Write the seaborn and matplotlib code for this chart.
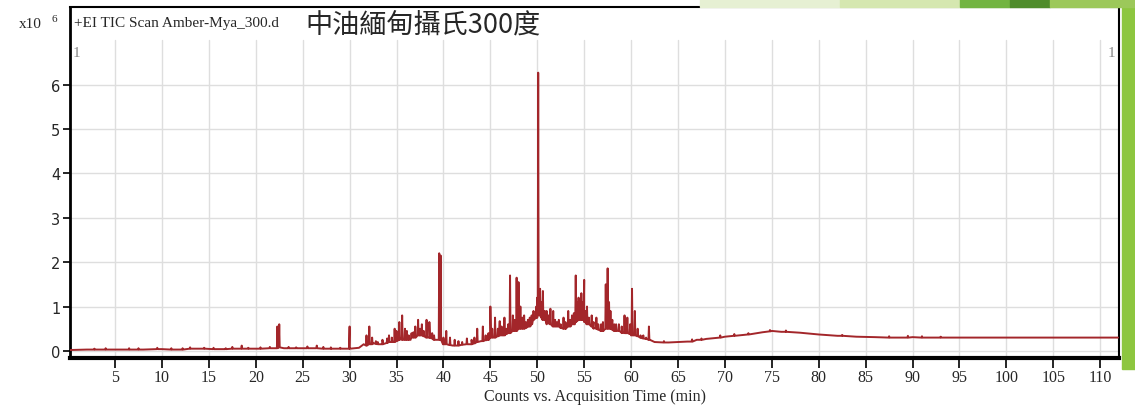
import pandas as pd
import seaborn as sns
import matplotlib.pyplot as plt
from matplotlib.patches import Rectangle

# --- data (counts x10^6 vs minutes) ---
base_time = [0.2, 2, 5, 8, 10, 12, 14, 16, 18, 20, 22, 23, 25, 28, 30, 31,
             31.5, 32.5, 33.5, 34.5, 35.5, 36.5, 37.5, 38.5, 39.2, 40, 41, 42,
             43, 44, 45, 46, 47, 48, 49, 50, 51, 52, 53, 54, 55, 56, 57, 58,
             59, 60, 61, 62, 62.5, 64, 65, 66, 67, 68, 70, 72, 74, 75, 76, 78,
             80, 82, 84, 86, 88, 90, 92, 95, 100, 105, 111.9]
base_value = [0.02, 0.03, 0.03, 0.03, 0.04, 0.03, 0.05, 0.04, 0.05, 0.05, 0.06,
              0.06, 0.06, 0.05, 0.05, 0.07, 0.15, 0.18, 0.15, 0.2, 0.28, 0.25,
              0.35, 0.3, 0.25, 0.15, 0.12, 0.15, 0.15, 0.22, 0.3, 0.35, 0.4,
              0.5, 0.55, 0.75, 0.6, 0.55, 0.5, 0.6, 0.65, 0.5, 0.45, 0.5, 0.4,
              0.35, 0.3, 0.25, 0.2, 0.19, 0.2, 0.21, 0.25, 0.27, 0.32, 0.36,
              0.42, 0.45, 0.43, 0.41, 0.37, 0.34, 0.32, 0.31, 0.3, 0.31, 0.3,
              0.3, 0.3, 0.3, 0.3]

peak_time = [4.0, 6.5, 9.5, 11.0, 13.0, 15.5, 17.5, 18.5, 20.5, 21.5, 22.3, 22.5,
             25.5, 26.5, 28.0, 30.0, 31.8, 32.1, 33.5, 34.2, 34.8, 35.3, 35.6,
             36.1, 36.6, 37.0, 37.3, 37.7, 38.2, 38.5, 39.0, 39.55, 39.7, 40.3,
             41.2, 42.5, 43.0, 43.6, 44.2, 44.8, 45.0, 45.5, 46.0, 46.5, 46.9,
             47.1, 47.4, 47.8, 48.0, 48.2, 48.6, 49.2, 49.6, 49.9, 50.1, 50.3,
             50.6, 51.0, 51.4, 51.7, 52.3, 52.8, 53.3, 53.7, 54.1, 54.4, 54.7,
             55.0, 55.3, 55.8, 56.3, 56.8, 57.3, 57.5, 57.8, 58.2, 58.7, 59.3,
             59.6, 60.1, 60.4, 61.0, 61.9, 66.5, 69.5, 71.0, 74.8]
peak_top = [0.06, 0.06, 0.07, 0.06, 0.08, 0.07, 0.09, 0.12, 0.08, 0.09, 0.55, 0.6,
            0.1, 0.12, 0.08, 0.55, 0.35, 0.55, 0.25, 0.35, 0.5, 0.65, 0.8,
            0.45, 0.4, 0.55, 0.7, 0.6, 0.7, 0.65, 0.35, 2.2, 2.15, 0.45,
            0.25, 0.28, 0.25, 0.5, 0.55, 0.4, 1.0, 0.75, 0.67, 0.75, 0.6,
            1.7, 0.8, 1.65, 1.55, 1.0, 0.8, 0.75, 0.9, 1.0, 6.27, 1.4,
            1.35, 0.9, 0.95, 0.9, 0.7, 0.75, 0.9, 0.8, 1.7, 1.2, 1.3,
            1.6, 1.0, 0.8, 0.75, 0.6, 1.5, 1.86, 0.9, 0.6, 0.6, 0.8,
            0.75, 1.4, 0.9, 0.35, 0.55, 0.26, 0.35, 0.38, 0.47]
peak_base = [0.03, 0.03, 0.04, 0.03, 0.05, 0.04, 0.05, 0.05, 0.05, 0.06, 0.06, 0.08,
             0.06, 0.06, 0.05, 0.05, 0.12, 0.15, 0.15, 0.2, 0.2, 0.25, 0.25,
             0.25, 0.3, 0.3, 0.35, 0.35, 0.3, 0.3, 0.25, 0.25, 0.25, 0.15,
             0.12, 0.15, 0.15, 0.2, 0.22, 0.25, 0.3, 0.3, 0.35, 0.35, 0.4,
             0.4, 0.45, 0.45, 0.5, 0.5, 0.5, 0.55, 0.7, 0.75, 0.8, 0.8,
             0.7, 0.65, 0.6, 0.55, 0.55, 0.5, 0.55, 0.6, 0.65, 0.7, 0.7,
             0.7, 0.6, 0.55, 0.5, 0.45, 0.5, 0.5, 0.5, 0.45, 0.45, 0.4,
             0.4, 0.35, 0.35, 0.3, 0.25, 0.21, 0.3, 0.34, 0.44]

# smaller unresolved peaks that make up the dense 32-62 min hump
minor_time = [2.8, 7.5, 12.2, 14.5, 16.8, 19.2, 23.5, 24.3, 27.2, 29.0,
              32.4, 32.8, 33.0, 34.0, 34.5, 35.0, 35.9, 36.3, 36.8, 37.5, 37.9,
              38.8, 40.0, 40.7, 41.6, 42.0, 43.3, 44.5, 45.2, 45.8, 46.2, 46.7,
              47.6, 48.4, 48.8, 49.0, 49.4, 50.0, 50.2, 50.45, 50.8, 51.2, 51.9,
              52.1, 52.5, 53.0, 53.5, 53.9, 54.25, 54.55, 54.85, 55.15, 55.5,
              56.0, 56.5, 57.0, 57.65, 58.0, 58.4, 59.0, 59.9, 60.7, 61.3, 61.6,
              63.5, 67.5, 72.5, 76.5, 82.5, 87.5, 89.5, 91.0, 93.0]
minor_top = [0.05, 0.06, 0.06, 0.07, 0.06, 0.07, 0.09, 0.08, 0.09, 0.07,
             0.3, 0.22, 0.2, 0.28, 0.3, 0.45, 0.5, 0.35, 0.42, 0.5, 0.45,
             0.4, 0.3, 0.3, 0.22, 0.2, 0.3, 0.35, 0.5, 0.5, 0.55, 0.5,
             0.7, 0.75, 0.65, 0.7, 0.8, 1.2, 1.0, 1.1, 0.9, 0.8, 0.7,
             0.65, 0.6, 0.65, 0.7, 0.85, 1.1, 1.0, 1.1, 0.9, 0.75,
             0.65, 0.6, 0.65, 1.1, 0.7, 0.6, 0.55, 0.6, 0.5, 0.35, 0.3,
             0.22, 0.28, 0.4, 0.46, 0.36, 0.33, 0.34, 0.33, 0.32]
minor_base = [0.03, 0.03, 0.03, 0.05, 0.04, 0.05, 0.06, 0.06, 0.05, 0.05,
              0.15, 0.16, 0.15, 0.18, 0.2, 0.22, 0.25, 0.25, 0.3, 0.35, 0.33,
              0.28, 0.15, 0.13, 0.12, 0.14, 0.17, 0.24, 0.3, 0.33, 0.35, 0.38,
              0.45, 0.5, 0.52, 0.55, 0.6, 0.8, 0.8, 0.75, 0.7, 0.62, 0.55,
              0.55, 0.52, 0.5, 0.55, 0.6, 0.68, 0.7, 0.7, 0.65, 0.6,
              0.52, 0.48, 0.45, 0.5, 0.48, 0.45, 0.42, 0.38, 0.33, 0.28, 0.27,
              0.19, 0.25, 0.37, 0.43, 0.34, 0.3, 0.3, 0.3, 0.3]

x_ticks = list(range(5, 111, 5))
y_ticks = [0, 1, 2, 3, 4, 5, 6]

sample_label = "+EI TIC Scan Amber-Mya_300.d"
title_text = "中油緬甸攝氏300度"
x_label = "Counts vs. Acquisition Time (min)"

# --- build one trace: baseline points plus a narrow spike for every peak ---
rows = [(t, v) for t, v in zip(base_time, base_value)]
for t, top, b in zip(peak_time + minor_time, peak_top + minor_top, peak_base + minor_base):
    rows += [(t - 0.05, b), (t, top), (t + 0.05, b)]
trace = pd.DataFrame(rows, columns=["time", "counts"]).sort_values("time")

sns.set_theme(style="white")
plt.rcParams["font.family"] = ["DejaVu Sans"]

fig = plt.figure(figsize=(11.35, 4.06), dpi=100)
fig.patch.set_facecolor("white")

# slide decoration (green band on the right and shapes above the frame)
fig.patches.append(Rectangle((1122 / 1135, 36 / 406), 13 / 1135, 370 / 406,
                             transform=fig.transFigure, color="#8dc63f", zorder=0))
for x0, x1, c in [(700, 840, "#e6f0d3"), (840, 960, "#d5e7b0"), (960, 1010, "#72b441"),
                  (1010, 1050, "#4f8c2b"), (1050, 1135, "#9cc85a")]:
    fig.patches.append(Rectangle((x0 / 1135, 398 / 406), (x1 - x0) / 1135, 8 / 406,
                                 transform=fig.transFigure, color=c, zorder=0))

ax = fig.add_axes([70 / 1135, 47 / 406, 1049 / 1135, 351 / 406])
ax.set_facecolor("white")

sns.lineplot(data=trace, x="time", y="counts", ax=ax, estimator=None, sort=False,
             color="#a3262a", linewidth=1.4, zorder=3)

ax.set_xlim(0.2, 112)
ax.set_ylim(-0.16, 7.75)

# grid only covers the plotting region below the header row
for yv in y_ticks:
    ax.axhline(yv, color="#dedede", linewidth=1, zorder=1)
for xv in x_ticks:
    ax.plot([xv, xv], [-0.16, 7.0], color="#dedede", linewidth=1, zorder=1)

ax.set_xticks(x_ticks)
ax.set_yticks(y_ticks)
ax.set_xticklabels([str(v) for v in x_ticks], family="Liberation Serif", fontsize=11.5)
ax.set_yticklabels([str(v) for v in y_ticks], fontsize=10.5)
ax.tick_params(axis="x", direction="out", length=7, width=1.2, color="black", pad=1,
               bottom=True)
ax.tick_params(axis="y", direction="out", length=5, width=1.2, color="black", pad=2,
               left=True)
ax.set_xlabel(x_label, family="Liberation Serif", fontsize=11.5, labelpad=2)
ax.set_ylabel("")

for side, lw in [("left", 2.0), ("bottom", 3.0), ("top", 1.5), ("right", 1.5)]:
    ax.spines[side].set_visible(True)
    ax.spines[side].set_color("black")
    ax.spines[side].set_linewidth(lw)

# header texts
ax.text(0.004, 0.955, sample_label, transform=ax.transAxes, family="Liberation Serif",
        fontsize=11, va="center", ha="left")
ax.text(0.224, 0.952, title_text, transform=ax.transAxes,
        family=["Noto Sans CJK TC", "DejaVu Sans"], fontsize=19.5, va="center", ha="left")
ax.text(0.003, 0.87, "1", transform=ax.transAxes, family="Liberation Serif",
        fontsize=11, color="#888888", va="center", ha="left")
ax.text(0.996, 0.87, "1", transform=ax.transAxes, family="Liberation Serif",
        fontsize=11, color="#888888", va="center", ha="right")
fig.text(19 / 1135, 1 - 25 / 406, "x10", family="Liberation Serif", fontsize=11,
         va="center", ha="left")
fig.text(52 / 1135, 1 - 20 / 406, "6", family="Liberation Serif", fontsize=8,
         va="center", ha="left")

fig.savefig("out.png", dpi=100)
